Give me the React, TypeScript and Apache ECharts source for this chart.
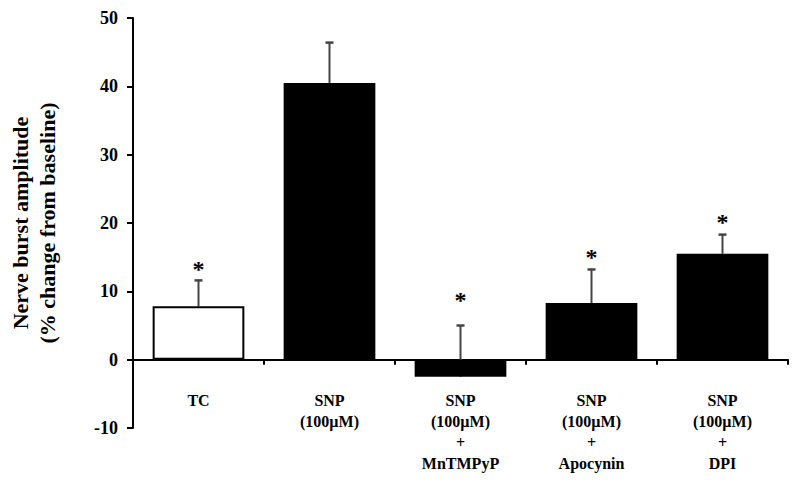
import React, { useEffect, useRef } from "react";
import * as echarts from "echarts";

const categories = [
  "TC",
  "SNP\n(100µM)",
  "SNP\n(100µM)\n+\nMnTMPyP",
  "SNP\n(100µM)\n+\nApocynin",
  "SNP\n(100µM)\n+\nDPI",
];
const meanValues = [7.8, 40.5, -2.5, 8.3, 15.5];
const errorUpper = [11.6, 46.4, 5.0, 13.2, 18.3];
const starMarks = ["*", "", "*", "*", "*"];
const starValues = [13.2, 0, 8.8, 15.0, 20.2];
const barFills = ["#ffffff", "#000000", "#000000", "#000000", "#000000"];
const yTicks = { min: -10, max: 50, interval: 10 };

const SERIF = "'Liberation Serif', 'Times New Roman', serif";

export default function App() {
  const ref = useRef<HTMLDivElement>(null);
  useEffect(() => {
    if (!ref.current) return;
    const chart = echarts.init(ref.current, null, { renderer: "svg" });
    const errData = categories.map((_, i) => [i, meanValues[i], errorUpper[i], starValues[i]]);
    chart.setOption({
      animation: false,
      backgroundColor: "#ffffff",
      grid: { left: 133, right: 12, top: 18, bottom: 62, containLabel: false, outerBoundsMode: "none" },
      xAxis: {
        type: "category",
        data: categories,
        axisLine: { onZero: true, lineStyle: { color: "#000", width: 2 } },
        axisTick: { show: true, alignWithLabel: false, length: 5, lineStyle: { color: "#000", width: 2 } },
        axisLabel: {
          interval: 0,
          margin: -38,
          color: "#000",
          fontFamily: SERIF,
          fontWeight: "bold",
          fontSize: 16,
          lineHeight: 21,
          verticalAlign: "top",
        },
        splitLine: { show: false },
      },
      yAxis: {
        type: "value",
        min: yTicks.min,
        max: yTicks.max,
        interval: yTicks.interval,
        name: "Nerve burst amplitude\n(% change from baseline)",
        nameLocation: "middle",
        nameRotate: 90,
        nameGap: 72,
        nameTextStyle: {
          color: "#000",
          fontFamily: SERIF,
          fontWeight: "bold",
          fontSize: 22,
          lineHeight: 27,
        },
        axisLine: { show: true, lineStyle: { color: "#000", width: 2 } },
        axisTick: { show: true, length: 6, lineStyle: { color: "#000", width: 2 } },
        axisLabel: {
          margin: 15,
          color: "#000",
          fontFamily: SERIF,
          fontWeight: "bold",
          fontSize: 18,
        },
        splitLine: { show: false },
      },
      series: [
        {
          type: "custom",
          z: 1,
          renderItem: (params: any, api: any) => {
            const idx = api.value(0);
            const base = api.coord([idx, api.value(1)]);
            const top = api.coord([idx, api.value(2)]);
            const capHalf = 4;
            const children: any[] = [
              {
                type: "line",
                shape: { x1: base[0], y1: base[1], x2: top[0], y2: top[1] },
                style: { stroke: "#444", lineWidth: 2 },
              },
              {
                type: "line",
                shape: { x1: top[0] - capHalf, y1: top[1], x2: top[0] + capHalf, y2: top[1] },
                style: { stroke: "#444", lineWidth: 2.5 },
              },
            ];
            const mark = starMarks[idx];
            if (mark) {
              const sp = api.coord([idx, api.value(3)]);
              children.push({
                type: "text",
                x: sp[0],
                y: sp[1],
                style: {
                  text: mark,
                  fill: "#000",
                  font: "bold 24px " + SERIF,
                  align: "center",
                  verticalAlign: "middle",
                },
              });
            }
            return { type: "group", children };
          },
          data: errData,
          encode: { x: 0, y: 2 },
        },
        {
          type: "bar",
          z: 2,
          barCategoryGap: "30%",
          data: meanValues.map((v, i) => ({
            value: v,
            itemStyle: {
              color: barFills[i],
              borderColor: "#000",
              borderWidth: i === 0 ? 2 : 0,
            },
          })),
        },
      ],
    });
    return () => chart.dispose();
  }, []);
  return (
    <div
      ref={ref}
      style={{ position: "fixed", left: 0, top: 0, width: 800, height: 490 }}
    />
  );
}
